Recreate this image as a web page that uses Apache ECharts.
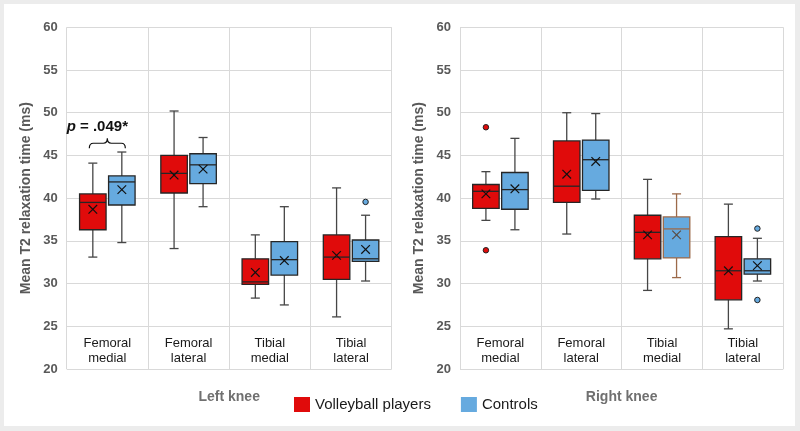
<!DOCTYPE html>
<html>
<head>
<meta charset="utf-8">
<script src="https://cdn.jsdelivr.net/npm/echarts@6/dist/echarts.min.js"></script>
<style>
  html, body { margin: 0; padding: 0; background: #ececec; }
  #wrap { position: relative; width: 800px; height: 431px; }
  #card { position: absolute; left: 4px; top: 4px; width: 791px; height: 422px; background: #ffffff; }
  #chart { position: absolute; left: 0; top: 0; width: 800px; height: 431px; }
</style>
</head>
<body>
<div id="wrap"><div id="card"></div><div id="chart"></div></div>
<script>
// ---------- data ----------
const categories = ['Femoral\nmedial', 'Femoral\nlateral', 'Tibial\nmedial', 'Tibial\nlateral'];
const groupNames = ['Volleyball players', 'Controls'];
const panelNames = ['Left knee', 'Right knee'];
const yTitle = 'Mean T2 relaxation time (ms)';
const yMin = 20, yMax = 60, yStep = 5;

// each row: [min, q1, median, q3, max, mean]
const leftVolley = [
  [33.1, 36.3, 39.5, 40.5, 44.1, 38.7],
  [34.1, 40.6, 42.9, 45.0, 50.2, 42.7],
  [28.3, 29.9, 30.2, 32.9, 35.7, 31.3],
  [26.1, 30.5, 33.1, 35.7, 41.2, 33.3]
];
const leftControls = [
  [34.8, 39.2, 41.9, 42.6, 45.4, 41.0],
  [39.0, 41.7, 43.9, 45.2, 47.1, 43.4],
  [27.5, 31.0, 32.8, 34.9, 39.0, 32.7],
  [30.3, 32.6, 32.9, 35.1, 38.0, 34.0]
];
const rightVolley = [
  [37.4, 38.8, 40.8, 41.6, 43.1, 40.5],
  [35.8, 39.5, 41.4, 46.7, 50.0, 42.8],
  [29.2, 32.9, 36.0, 38.0, 42.2, 35.7],
  [24.7, 28.1, 31.5, 35.5, 39.3, 31.5]
];
const rightControls = [
  [36.3, 38.7, 41.0, 43.0, 47.0, 41.1],
  [39.9, 40.9, 44.5, 46.8, 49.9, 44.3],
  [30.7, 33.0, 36.4, 37.8, 40.5, 35.7],
  [30.3, 31.1, 31.5, 32.9, 35.3, 32.1]
];
// outliers: [categoryIndex, value]
const leftVolleyOut = [];
const leftControlsOut = [[3, 39.56]];
const rightVolleyOut = [[0, 48.3], [0, 33.9]];
const rightControlsOut = [[3, 36.44], [3, 28.08]];

// significance annotation (left knee): [categoryIndex, braceEnd, bracePeak, textLevel]
const annotCategory = 0;
const annotLevels = [45.85, 47.0, 48.3];
const annotText = ['p', ' = .049*'];

// ---------- styles ----------
const FONT = '"Liberation Sans", Arial, sans-serif';
const RED = '#e00b0b';
const BLUE = '#66aadf';
const BOX_W = 26.5;
const OFFSET = 14.5;
const strokeOverride = { '1-1-2': '#9c6a4a' };   // panel-group-category
const markOverride = { '1-1-2': '#5b4a40' };

function makeBoxRender(panel, group, offsetPx, fill) {
  return function (params, api) {
    const ci = api.value(0);
    const mn = api.value(1), q1 = api.value(2), md = api.value(3),
          q3 = api.value(4), mx = api.value(5), mean = api.value(6);
    const cx = api.coord([ci, md])[0] + offsetPx;
    const y = v => api.coord([ci, v])[1];
    const key = panel + '-' + group + '-' + ci;
    const border = strokeOverride[key] || '#262626';
    const whisk = strokeOverride[key] || '#464646';
    const markC = markOverride[key] || '#111111';
    const hw = BOX_W / 2, cap = 4.5, xs = 4.3;
    const ym = y(mean);
    const lw = 1.3;
    return {
      type: 'group',
      children: [
        { type: 'line', shape: { x1: cx, y1: y(mx), x2: cx, y2: y(q3) }, style: { stroke: whisk, lineWidth: lw } },
        { type: 'line', shape: { x1: cx, y1: y(q1), x2: cx, y2: y(mn) }, style: { stroke: whisk, lineWidth: lw } },
        { type: 'line', shape: { x1: cx - cap, y1: y(mx), x2: cx + cap, y2: y(mx) }, style: { stroke: whisk, lineWidth: lw } },
        { type: 'line', shape: { x1: cx - cap, y1: y(mn), x2: cx + cap, y2: y(mn) }, style: { stroke: whisk, lineWidth: lw } },
        { type: 'rect', shape: { x: cx - hw, y: y(q3), width: BOX_W, height: y(q1) - y(q3) },
          style: { fill: fill, stroke: border, lineWidth: lw } },
        { type: 'line', shape: { x1: cx - hw, y1: y(md), x2: cx + hw, y2: y(md) }, style: { stroke: border, lineWidth: lw } },
        { type: 'line', shape: { x1: cx - xs, y1: ym - xs, x2: cx + xs, y2: ym + xs }, style: { stroke: markC, lineWidth: 1.2 } },
        { type: 'line', shape: { x1: cx - xs, y1: ym + xs, x2: cx + xs, y2: ym - xs }, style: { stroke: markC, lineWidth: 1.2 } }
      ]
    };
  };
}

function boxSeries(panel, group, rows) {
  return {
    type: 'custom',
    name: groupNames[group],
    xAxisIndex: panel, yAxisIndex: panel,
    itemStyle: { color: group === 0 ? RED : BLUE },
    encode: { x: 0, y: [1, 2, 3, 4, 5, 6] },
    data: rows.map((r, i) => [i].concat(r)),
    renderItem: makeBoxRender(panel, group, group === 0 ? -OFFSET : OFFSET, group === 0 ? RED : BLUE),
    z: 5
  };
}

function outlierSeries(panel, group, pts) {
  return {
    type: 'scatter',
    name: groupNames[group],
    xAxisIndex: panel, yAxisIndex: panel,
    symbol: 'circle',
    symbolSize: 5.5,
    symbolOffset: [group === 0 ? -OFFSET : OFFSET, 0],
    itemStyle: { color: group === 0 ? RED : BLUE, borderColor: '#222', borderWidth: 1, opacity: 1 },
    data: pts,
    z: 6
  };
}

const annotSeries = {
  type: 'custom',
  xAxisIndex: 0, yAxisIndex: 0,
  silent: true,
  encode: { x: 0, y: [1, 2, 3] },
  data: [[annotCategory].concat(annotLevels)],
  renderItem: function (params, api) {
    const ci = api.value(0);
    const c = api.coord([ci, api.value(1)]);
    const xc = c[0];
    const yEnd = c[1];
    const yPeak = api.coord([ci, api.value(2)])[1];
    const yText = api.coord([ci, api.value(3)])[1];
    const xl = xc - OFFSET - 3.5, xr = xc + OFFSET + 3.5;
    const yMid = (yEnd + yPeak) / 2;
    const r = 4;
    const d = 'M' + xl + ',' + yEnd +
      ' Q' + xl + ',' + yMid + ' ' + (xl + r) + ',' + yMid +
      ' L' + (xc - r) + ',' + yMid +
      ' Q' + xc + ',' + yMid + ' ' + xc + ',' + yPeak +
      ' Q' + xc + ',' + yMid + ' ' + (xc + r) + ',' + yMid +
      ' L' + (xr - r) + ',' + yMid +
      ' Q' + xr + ',' + yMid + ' ' + xr + ',' + yEnd;
    return {
      type: 'group',
      children: [
        { type: 'path', shape: { pathData: d }, style: { fill: 'none', stroke: '#111', lineWidth: 1.2 } },
        { type: 'text', x: xc - 10, y: yText,
          style: {
            text: '{i|' + annotText[0] + '}{b|' + annotText[1] + '}',
            align: 'center', verticalAlign: 'middle',
            rich: {
              i: { fontStyle: 'italic', fontWeight: 'bold', fontSize: 15, fontFamily: FONT, fill: '#111' },
              b: { fontWeight: 'bold', fontSize: 15, fontFamily: FONT, fill: '#111' }
            }
          } }
      ]
    };
  },
  z: 7
};

function xAxisDef(panel) {
  return {
    type: 'category', gridIndex: panel, data: categories,
    boundaryGap: true,
    axisLine: { show: false }, axisTick: { show: false },
    axisLabel: { inside: true, interval: 0, margin: 3.5, color: '#1a1a1a', fontSize: 13, lineHeight: 14.5, fontFamily: FONT },
    splitLine: { show: true, interval: 0, lineStyle: { color: '#d9d9d9', width: 1 } },
    name: panelNames[panel], nameLocation: 'middle', nameGap: 21,
    nameTextStyle: { color: '#707070', fontWeight: 'bold', fontSize: 14, fontFamily: FONT }
  };
}
function yAxisDef(panel) {
  return {
    type: 'value', gridIndex: panel, min: yMin, max: yMax, interval: yStep,
    axisLine: { show: false }, axisTick: { show: false },
    axisLabel: { color: '#595959', fontWeight: 'bold', fontSize: 13, margin: 9, fontFamily: FONT },
    splitLine: { show: true, lineStyle: { color: '#d9d9d9', width: 1 } },
    name: yTitle, nameLocation: 'middle', nameGap: 34,
    nameTextStyle: { color: '#595959', fontWeight: 'bold', fontSize: 14, fontFamily: FONT }
  };
}

const chart = echarts.init(document.getElementById('chart'), null, { renderer: 'canvas' });
chart.setOption({
  backgroundColor: 'transparent',
  animation: false,
  textStyle: { fontFamily: FONT },
  grid: [
    { left: 66.7, top: 27.3, width: 325, height: 341.7 },
    { left: 460, top: 27.3, width: 323.3, height: 341.7 }
  ],
  legend: {
    left: 289, top: 392, itemWidth: 16, itemHeight: 15, itemGap: 30,
    icon: 'rect', selectedMode: false,
    textStyle: { color: '#1a1a1a', fontSize: 15, fontFamily: FONT },
    data: [
      { name: groupNames[0], itemStyle: { color: RED, borderWidth: 0 } },
      { name: groupNames[1], itemStyle: { color: BLUE, borderWidth: 0 } }
    ]
  },
  xAxis: [xAxisDef(0), xAxisDef(1)],
  yAxis: [yAxisDef(0), yAxisDef(1)],
  series: [
    boxSeries(0, 0, leftVolley),
    boxSeries(0, 1, leftControls),
    boxSeries(1, 0, rightVolley),
    boxSeries(1, 1, rightControls),
    outlierSeries(0, 0, leftVolleyOut),
    outlierSeries(0, 1, leftControlsOut),
    outlierSeries(1, 0, rightVolleyOut),
    outlierSeries(1, 1, rightControlsOut),
    annotSeries
  ]
});
</script>
</body>
</html>
